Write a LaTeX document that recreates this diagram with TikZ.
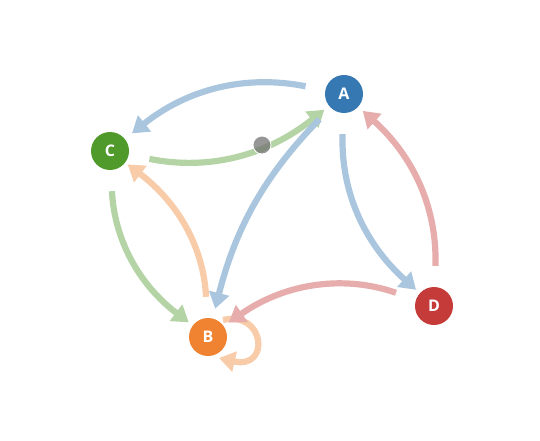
\documentclass[tikz,border=0pt]{standalone}
\usepackage{fontspec}
\setsansfont{Open Sans}
\usetikzlibrary{arrows.meta,calc}
\definecolor{cA}{RGB}{53,120,178}
\definecolor{cB}{RGB}{239,131,50}
\definecolor{cC}{RGB}{80,153,43}
\definecolor{cD}{RGB}{196,59,58}
\tikzset{
  vert/.style={circle,fill=#1,minimum size=38pt,inner sep=0pt,text=white,font=\sffamily\bfseries\fontsize{16}{16}\selectfont},
  link/.style={draw=#1!42!white,line width=6.2pt,-{Triangle[width=20pt,length=16pt,fill=#1!42!white]}},
}
\begin{document}
\begin{tikzpicture}[x=1pt,y=1pt]
\useasboundingbox (0,0) rectangle (540,440);
\node[vert=cA] (A) at (344,346) {A};
\node[vert=cC] (C) at (110,289) {C};
\node[vert=cB] (B) at (208,103) {B};
\node[vert=cD] (D) at (434,134) {D};
\coordinate (Ls) at ($(B)+(15pt,17pt)$);
\coordinate (Le) at ($(B)+(11pt,-21pt)$);
\coordinate (L1) at ($(B)+(57pt,27pt)$);
\coordinate (L2) at ($(B)+(63pt,-33pt)$);
% edges
\draw[link=cA,shorten <=20pt,shorten >=9pt] (A) to[bend right=25] (C);
\draw[link=cC,shorten <=21pt,shorten >=6pt] (C) to[bend right=25] (A);
\draw[link=cA,shorten <=16pt,shorten >=10pt] (A) to[bend right=15] (B);
\draw[link=cA,shorten <=21pt,shorten >=5pt] (A) to[bend right=25] (D);
\draw[link=cD,shorten <=21pt,shorten >=6pt] (D) to[bend right=25] (A);
\draw[link=cB,shorten <=21pt,shorten >=3pt] (B) to[bend right=25] (C);
\draw[link=cC,shorten <=21pt,shorten >=5pt] (C) to[bend right=25] (B);
\draw[link=cB] (Ls) .. controls (L1) and (L2) .. (Le);
\draw[link=cD,shorten <=21pt,shorten >=6pt] (D) to[bend right=27] (B);
\node[circle,fill=black!55,fill opacity=0.75,draw=white,line width=0.8pt,minimum size=18pt,inner sep=0pt] (dot) at (262,295) {};
\end{tikzpicture}
\end{document}
